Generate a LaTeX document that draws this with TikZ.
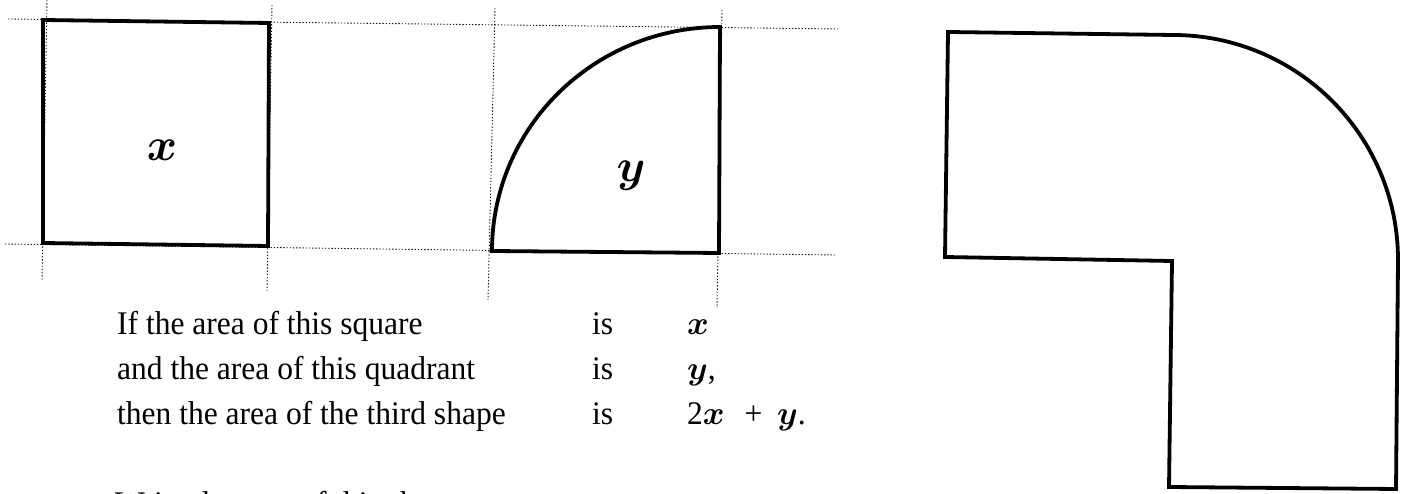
\RequirePackage{fix-cm}
\documentclass[tikz,border=0pt]{standalone}
\usepackage{amsmath}
\usepackage{fontspec}
\setmainfont[FakeStretch=0.955]{Liberation Serif}
\tikzset{
  outline/.style={line width=3.8pt, line join=miter},
  guide/.style={line width=0.9pt, dash pattern=on 1.4pt off 1.8pt, black!90},
  txt/.style={font=\fontsize{33}{40}\selectfont, anchor=base west, inner sep=0pt},
  lbl/.style={font=\fontsize{46}{50}\selectfont, inner sep=0pt}
}
\begin{document}
\begin{tikzpicture}[x=1pt,y=1pt]
\useasboundingbox (0,0) rectangle (1407,494);
\clip (0,0) rectangle (1407,494);
% guide lines
\draw[guide] (8,475) -- (840,465);
\draw[guide] (5,250) -- (835,239);
\draw[guide] (47,494) -- (42,214);
\draw[guide] (272,489) -- (267,202);
\draw[guide] (495,486) -- (488,194);
\draw[guide] (722,484) -- (717,186);
% square
\draw[outline] (43,474) -- (269,471) -- (268,248) -- (43,251) -- cycle;
\node[lbl] (lx) at (162,344) {$\boldsymbol{x}$};
% quadrant
\draw[outline] (492,243) arc[start angle=180, end angle=90, x radius=228, y radius=224] -- (719,241) -- cycle;
\node[lbl] (ly) at (631,318) {$\boldsymbol{y}$};
% third shape
\draw[outline] (948,462) -- (1173,459) arc[start angle=90, end angle=0, radius=225] -- (1396,5) -- (1169,7) -- (1172,233) -- (945,237) -- cycle;
% text
\node[txt] (t1) at (117,159) {If the area of this square};
\node[txt] (t2) at (117,114) {and the area of this quadrant};
\node[txt] (t3) at (117,69) {then the area of the third shape};
\node[txt] (i1) at (592,159) {is};
\node[txt] (i2) at (592,114) {is};
\node[txt] (i3) at (592,69) {is};
\node[txt] (m1) at (687,159) {$\boldsymbol{x}$};
\node[txt] (m2) at (687,114) {$\boldsymbol{y}$,};
\node[txt] (m3) at (687,69) {2$\boldsymbol{x}$\hspace{0.6em}+\hspace{0.45em}$\boldsymbol{y}$.};
\node[txt] (w) at (115,-21) {Write the area of this shape};
\end{tikzpicture}
\end{document}
